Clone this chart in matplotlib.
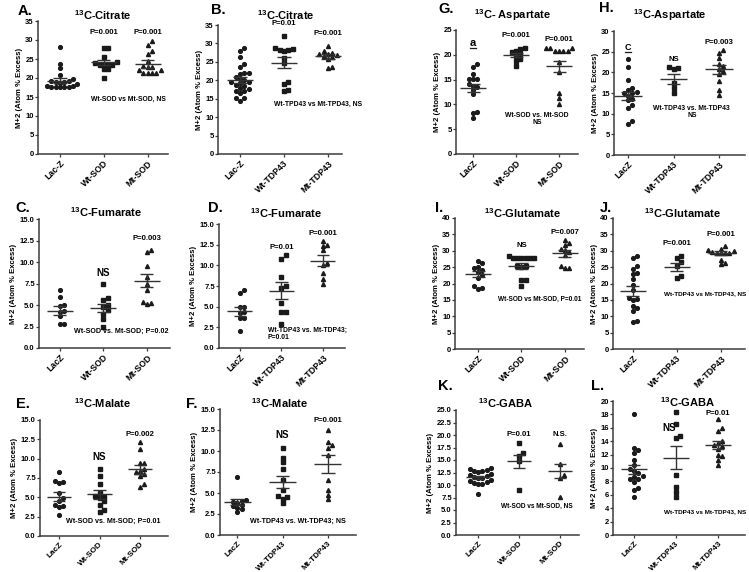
import matplotlib
matplotlib.use("Agg")
import matplotlib.pyplot as plt
from matplotlib.lines import Line2D
import numpy as np

plt.rcParams['font.family'] = ['Liberation Sans', 'DejaVu Sans']
plt.rcParams['font.weight'] = 'bold'
plt.rcParams['mathtext.fontset'] = 'custom'
plt.rcParams['mathtext.rm'] = 'Liberation Sans:bold'
plt.rcParams['mathtext.bf'] = 'Liberation Sans:bold'
plt.rcParams['mathtext.it'] = 'Liberation Sans:bold'

W, H = 749, 572

# group labels
SOD_A = ["Lac-Z", "Wt-SOD", "Mt-SOD"]
TDP_B = ["Lac-Z", "Wt-TDP43", "Mt-TDP43"]
SOD = ["LacZ", "Wt-SOD", "Mt-SOD"]
TDP = ["LacZ", "Wt-TDP43", "Mt-TDP43"]

# --- data (M+2 atom % excess) ---
A_lacz = [28.2, 23.6, 22.5, 20.9, 19.7, 19.2, 19.2, 19.0, 18.9, 18.8, 18.3, 18.0, 17.8, 17.7, 17.7, 17.7, 17.6, 17.6]
A_wt = [28.0, 28.0, 25.4, 24.3, 24.0, 23.5, 23.5, 23.5, 23.4, 22.3, 22.3, 20.1]
A_mt = [29.8, 28.8, 27.0, 26.4, 24.5, 23.2, 22.8, 22.8, 22.0, 22.0, 21.2, 21.2, 21.2, 21.2]
A_mean = [19.3, 24.1, 23.7]
A_sem = [0.7, 0.6, 1.0]

B_lacz = [28.7, 28.0, 26.2, 24.3, 23.7, 22.0, 22.0, 21.8, 20.9, 20.4, 20.2, 19.6, 19.5, 19.2, 18.8, 18.5, 18.0, 17.6, 17.2, 17.2, 16.5, 15.1, 15.1, 14.4]
B_wt = [32.1, 28.8, 28.6, 28.3, 28.3, 28.0, 26.0, 24.6, 19.6, 18.9, 17.4, 17.1]
B_mt = [29.4, 28.0, 27.5, 27.1, 27.1, 26.9, 26.7, 26.3, 25.8, 23.7, 23.2]
B_mean = [20.1, 24.8, 26.5]
B_sem = [0.75, 1.45, 0.7]

C_lacz = [6.7, 5.9, 5.0, 4.9, 4.3, 4.2, 3.7, 2.8, 2.8]
C_wt = [7.4, 5.8, 5.6, 5.0, 4.8, 4.4, 4.0, 3.4, 2.5]
C_mt = [11.4, 11.2, 9.5, 8.2, 7.5, 6.8, 5.4, 5.2, 5.1]
C_mean = [4.35, 4.65, 7.83]
C_sem = [0.5, 0.47, 0.75]

D_lacz = [7.0, 6.7, 5.0, 4.9, 4.4, 4.2, 3.6, 3.6, 2.0]
D_wt = [11.2, 10.8, 8.6, 7.5, 7.2, 5.4, 4.4, 4.3, 2.9]
D_mt = [13.0, 12.4, 12.3, 11.8, 10.3, 10.0, 9.1, 8.3, 7.8]
D_mean = [4.44, 6.94, 10.56]
D_sem = [0.55, 1.0, 0.65]

E_lacz = [8.3, 7.1, 7.0, 6.9, 5.5, 4.9, 4.5, 4.0, 3.9, 3.7, 2.7]
E_wt = [8.7, 7.7, 6.7, 5.6, 5.2, 5.1, 4.9, 4.5, 4.0, 3.3, 3.1]
E_mt = [12.1, 11.2, 9.5, 9.4, 8.6, 8.4, 8.3, 8.0, 7.8, 6.7, 6.3]
E_mean = [5.06, 5.4, 8.6]
E_sem = [0.58, 0.6, 0.58]

F_lacz = [6.9, 4.2, 4.1, 3.9, 3.8, 3.6, 3.4, 3.2, 3.1, 2.7]
F_wt = [10.3, 9.2, 8.7, 7.8, 6.5, 5.4, 4.7, 4.5, 4.3, 3.8]
F_mt = [12.5, 11.1, 10.7, 10.3, 9.5, 6.6, 5.3, 4.8, 4.3]
F_mean = [3.89, 6.35, 8.41]
F_sem = [0.36, 0.72, 1.08]

G_lacz = [18.2, 17.5, 16.2, 15.2, 15.2, 15.1, 14.2, 13.8, 13.6, 12.9, 12.0, 8.4, 8.2, 7.3]
G_wt = [21.3, 21.2, 20.7, 20.5, 20.1, 19.7, 19.2, 18.8, 17.7]
G_mt = [21.3, 21.3, 21.3, 20.8, 20.8, 20.8, 20.8, 18.6, 16.5, 12.3, 11.2, 10.1]
G_mean = [13.27, 19.95, 17.65]
G_sem = [0.83, 0.4, 1.15]

H_lacz = [23.2, 21.4, 18.2, 16.2, 15.8, 15.2, 15.0, 14.9, 14.3, 13.6, 13.3, 12.1, 11.3, 8.2, 7.5]
H_wt = [21.2, 21.0, 20.8, 17.3, 16.3, 15.0]
H_mt = [25.3, 24.6, 23.4, 22.1, 21.5, 20.7, 20.3, 19.6, 18.0, 15.8, 14.5]
H_mean = [14.35, 18.47, 20.7]
H_sem = [1.0, 1.2, 1.0]

I_lacz = [27.0, 26.2, 25.0, 24.6, 24.0, 23.6, 22.7, 21.6, 19.2, 18.7, 18.2]
I_wt = [28.3, 27.8, 27.8, 27.8, 27.8, 27.8, 27.8, 25.2, 25.2, 25.0, 21.0, 21.0, 19.3]
I_mt = [33.4, 32.5, 31.8, 30.6, 30.2, 29.5, 28.8, 25.4, 24.8, 24.8]
I_mean = [22.9, 25.36, 29.24]
I_sem = [0.85, 0.92, 1.1]

J_lacz = [28.5, 27.7, 25.2, 24.3, 23.3, 23.0, 21.4, 19.6, 17.9, 15.7, 15.2, 15.0, 13.0, 12.6, 11.7, 8.4, 8.3]
J_wt = [28.5, 27.8, 26.5, 25.3, 22.4, 21.8]
J_mt = [31.4, 30.6, 30.2, 29.8, 29.6, 29.4, 29.3, 29.3, 29.3, 27.3, 26.3, 26.0]
J_mean = [17.76, 25.0, 29.2]
J_sem = [1.5, 1.25, 0.6]

K_lacz = [13.5, 13.2, 13.1, 12.9, 12.8, 12.7, 12.2, 12.0, 11.8, 11.6, 11.5, 11.4, 11.0, 10.8, 10.6, 10.5, 10.3, 10.2, 8.2]
K_wt = [18.4, 16.5, 15.8, 14.8, 9.0]
K_mt = [18.3, 14.3, 12.0, 11.5, 7.6]
K_mean = [11.53, 14.8, 12.87]
K_sem = [0.33, 1.3, 1.43]

L_lacz = [18.0, 13.0, 12.7, 12.3, 11.2, 10.4, 9.8, 9.6, 9.2, 8.8, 8.7, 8.4, 8.4, 7.9, 7.0, 6.7, 5.6]
L_wt = [18.3, 16.6, 14.8, 14.5, 8.9, 7.1, 6.4, 5.7]
L_mt = [17.3, 15.9, 15.5, 14.1, 13.8, 13.5, 13.3, 12.9, 12.0, 11.8, 11.2, 10.4]
L_mean = [9.78, 11.56, 13.4]
L_sem = [0.7, 1.77, 0.63]

CIT = r"$^{13}$C-Citrate"
FUM = r"$^{13}$C-Fumarate"
MAL = r"$^{13}$C-Malate"
GLU = r"$^{13}$C-Glutamate"
GABA = r"$^{13}$C-GABA"

# layout: axes box in pixels (left, top, right, bottom), xlim, y ticks, title/letter positions, texts
# text tuples: (x, y, string, fontsize[, ha[, underline]])
panels = [
    dict(letter="A.", lpos=(25, 11), title=CIT, tpos=(103, 15), box=(38, 21, 168, 154),
         xlim=(-0.5, 2.46), yt=np.arange(0, 36, 5), fmt="%d", groups=SOD_A,
         vals=(A_lacz, A_wt, A_mt), mean=A_mean, sem=A_sem,
         texts=[(1, 31.9, "P=0.001", 5.6), (2, 31.9, "P=0.001", 5.6),
                (1.56, 14.4, "Wt-SOD vs Mt-SOD, NS", 4.9)]),
    dict(letter="B.", lpos=(218, 10), title=CIT, tpos=(286, 15), box=(218, 25, 342, 154),
         xlim=(-0.5, 2.32), yt=np.arange(0, 36, 5), fmt="%d", groups=TDP_B,
         vals=(B_lacz, B_wt, B_mt), mean=B_mean, sem=B_sem,
         texts=[(1, 35.3, "P=0.01", 5.6), (2, 32.7, "P=0.001", 5.6),
                (1.77, 13.5, "Wt-TPD43 vs Mt-TPD43, NS", 4.9)]),
    dict(letter="C.", lpos=(23, 208), title=FUM, tpos=(106, 212), box=(39, 219, 170, 348),
         xlim=(-0.48, 2.53), yt=np.arange(0, 15.1, 2.5), fmt="%.1f", groups=SOD,
         vals=(C_lacz, C_wt, C_mt), mean=C_mean, sem=C_sem,
         texts=[(1, 8.7, "NS", 7), (2, 12.7, "P=0.003", 5.6),
                (1.4, 1.94, "Wt-SOD vs. Mt-SOD; P=0.02", 5.1)]),
    dict(letter="D.", lpos=(215, 208), title=FUM, tpos=(286, 213), box=(219, 224, 345, 348),
         xlim=(-0.5, 2.53), yt=np.arange(0, 15.1, 2.5), fmt="%.1f", groups=TDP,
         vals=(D_lacz, D_wt, D_mt), mean=D_mean, sem=D_sem,
         texts=[(1, 12.2, "P=0.01", 5.6), (2, 13.9, "P=0.001", 5.6),
                (0.67, 1.7, "Wt-TDP43 vs. Mt-TDP43;\nP=0.01", 4.9, "left")]),
    dict(letter="E.", lpos=(23, 404), title=MAL, tpos=(102, 403), box=(40, 420, 168, 536),
         xlim=(-0.47, 2.69), yt=np.arange(0, 15.1, 2.5), fmt="%.1f", groups=SOD,
         vals=(E_lacz, E_wt, E_mt), mean=E_mean, sem=E_sem,
         texts=[(1, 10.2, "NS", 7), (2, 13.1, "P=0.002", 5.6),
                (1.33, 1.9, "Wt-SOD vs. Mt-SOD; P=0.01", 5.1)]),
    dict(letter="F.", lpos=(192, 404), title=MAL, tpos=(279, 403), box=(220, 409, 356, 535),
         xlim=(-0.38, 2.62), yt=np.arange(0, 15.1, 2.5), fmt="%.1f", groups=TDP,
         vals=(F_lacz, F_wt, F_mt), mean=F_mean, sem=F_sem,
         texts=[(1, 11.9, "NS", 7), (2, 13.6, "P=0.001", 5.6),
                (1.33, 1.67, "Wt-TDP43 vs. Wt-TDP43; NS", 5.1)]),
    dict(letter="G.", lpos=(446, 9), title=r"$^{13}$C- Aspartate", tpos=(512, 15), box=(456, 30, 578, 154),
         xlim=(-0.4, 2.44), yt=np.arange(0, 26, 5), fmt="%d", groups=SOD,
         vals=(G_lacz, G_wt, G_mt), mean=G_mean, sem=G_sem,
         texts=[(0, 22.4, "a", 8, "center", True), (1, 23.9, "P=0.001", 5.6),
                (2, 23.0, "P=0.001", 5.6), (1.49, 7.1, "Wt-SOD vs. Mt-SOD\nNS", 4.9)]),
    dict(letter="H.", lpos=(606, 8), title=r"$^{13}$C-Aspartate", tpos=(670, 15), box=(614, 31, 745, 155),
         xlim=(-0.31, 2.57), yt=np.arange(0, 31, 5), fmt="%d", groups=TDP,
         vals=(H_lacz, H_wt, H_mt), mean=H_mean, sem=H_sem,
         texts=[(0, 26.1, "C", 6.5, "center", True), (1, 23.1, "NS", 5.6),
                (2, 27.1, "P=0.003", 5.6), (1.4, 10.4, "Wt-TDP43 vs. Mt-TDP43\nNS", 4.9)]),
    dict(letter="I.", lpos=(439, 208), title=GLU, tpos=(522, 213), box=(455, 218, 584, 349),
         xlim=(-0.53, 2.44), yt=np.arange(0, 41, 5), fmt="%d", groups=SOD,
         vals=(I_lacz, I_wt, I_mt), mean=I_mean, sem=I_sem,
         texts=[(1, 31.6, "NS", 5.6), (2, 35.7, "P=0.007", 5.6),
                (1.43, 15.1, "Wt-SOD vs Mt-SOD, P=0.01", 4.7)]),
    dict(letter="J.", lpos=(606, 208), title=GLU, tpos=(682, 213), box=(613, 218, 745, 349),
         xlim=(-0.45, 2.55), yt=np.arange(0, 41, 5), fmt="%d", groups=TDP,
         vals=(J_lacz, J_wt, J_mt), mean=J_mean, sem=J_sem,
         texts=[(1, 32.3, "P=0.001", 5.6), (2, 35.1, "P=0.001", 5.6),
                (1.64, 17.0, "Wt-TDP43 vs Mt-TDP43, NS", 4.6)]),
    dict(letter="K.", lpos=(445, 386), title=GABA, tpos=(506, 403), box=(456, 410, 579, 535),
         xlim=(-0.54, 2.46), yt=np.arange(0, 25.1, 2.5), fmt="%.1f", groups=SOD,
         vals=(K_lacz, K_wt, K_mt), mean=K_mean, sem=K_sem,
         texts=[(1, 20.2, "P=0.01", 5.6), (2, 20.2, "N.S.", 5.6),
                (1.44, 5.7, "Wt-SOD vs Mt-SOD, NS", 4.7)]),
    dict(letter="L.", lpos=(598, 386), title=GABA, tpos=(688, 402), box=(613, 401, 745, 535),
         xlim=(-0.5, 2.64), yt=np.arange(0, 21, 2), fmt="%d", groups=TDP,
         vals=(L_lacz, L_wt, L_mt), mean=L_mean, sem=L_sem,
         texts=[(0.83, 15.9, "NS", 7), (2, 18.2, "P=0.01", 5.6),
                (1.7, 3.5, "Wt-TDP43 vs Mt-TDP43, NS", 4.6)]),
]

MARKERS = [("o", 2.7), ("s", 2.6), ("^", 2.9)]
INK = "#1a1a1a"
AXC = "#3c3c3c"


def swarm_x(ax, vals, xc, step=4.3):
    # spread equal-ish values sideways so markers do not overlap (pixel space)
    tr = ax.transData
    inv = tr.inverted()
    ys = np.asarray(vals, float)
    x0 = tr.transform((xc, 0))[0]
    placed = []
    xs = np.zeros(len(ys))
    for i in np.argsort(ys):
        ypx = tr.transform((xc, ys[i]))[1]
        for k in [0, 1, -1, 2, -2, 3, -3, 4, -4, 5, -5, 6, -6]:
            xpx = x0 + k * step
            if all((xpx - a) ** 2 + (ypx - b) ** 2 >= (step * 0.95) ** 2 for a, b in placed):
                break
        placed.append((xpx, ypx))
        xs[i] = inv.transform((xpx, ypx))[0]
    return xs


fig = plt.figure(figsize=(W / 100, H / 100), dpi=100)
underlined = []

for p in panels:
    l, t, r, b = p["box"]
    ax = fig.add_axes([l / W, 1 - b / H, (r - l) / W, (b - t) / H])
    yt = p["yt"]
    ax.set_xlim(*p["xlim"])
    ax.set_ylim(0, yt[-1])
    for s in ["top", "right"]:
        ax.spines[s].set_visible(False)
    for s in ["left", "bottom"]:
        ax.spines[s].set_linewidth(1.1)
        ax.spines[s].set_color(AXC)
    ax.set_yticks(yt)
    ax.set_yticklabels([p["fmt"] % v for v in yt])
    ax.set_xticks([0, 1, 2])
    ax.set_xticklabels(p["groups"], rotation=45, ha="right", rotation_mode="anchor")
    ax.tick_params(axis="both", length=2, width=0.9, color=AXC, pad=1, labelsize=5.5)
    # bottom row has less room below the axes
    ax.tick_params(axis="x", pad=1.5, labelsize=5.9 if b > 500 else 6.3)
    ax.set_ylabel("M+2 (Atom % Excess)", fontsize=5.6, fontweight="bold", labelpad=2)

    for gi, vals in enumerate(p["vals"]):
        mk, ms = MARKERS[gi]
        xs = swarm_x(ax, vals, gi)
        ax.plot(xs, vals, ls="none", marker=mk, ms=ms, color=INK, mec=INK, clip_on=False, zorder=3)
        m, se = p["mean"][gi], p["sem"][gi]
        ax.hlines(m, gi - 0.3, gi + 0.3, color="#333333", lw=1.0, zorder=4)
        ax.hlines([m - se, m + se], gi - 0.15, gi + 0.15, color="#333333", lw=1.0, zorder=4)
        ax.vlines(gi, m - se, m + se, color="#333333", lw=1.0, zorder=4)

    for tx in p["texts"]:
        x, y, s, fs = tx[:4]
        ha = tx[4] if len(tx) > 4 else "center"
        txt = ax.text(x, y, s, fontsize=fs, fontweight="bold", ha=ha, va="center",
                      clip_on=False, linespacing=1.1)
        if len(tx) > 5 and tx[5]:
            underlined.append(txt)

    lx, ly = p["lpos"]
    fig.text(lx / W, 1 - ly / H, p["letter"], fontsize=10.5, fontweight="bold", ha="center", va="center")
    tx, ty = p["tpos"]
    fig.text(tx / W, 1 - ty / H, p["title"], fontsize=8, fontweight="bold", ha="center", va="center")

# underline the small group letters using their rendered extents
fig.canvas.draw()
for txt in underlined:
    bb = txt.get_window_extent()
    y0 = bb.y0 - 0.5
    fig.add_artist(Line2D([bb.x0 / W, bb.x1 / W], [y0 / H, y0 / H], color=INK, lw=0.9))

fig.savefig("out.png", dpi=100, facecolor="white")
